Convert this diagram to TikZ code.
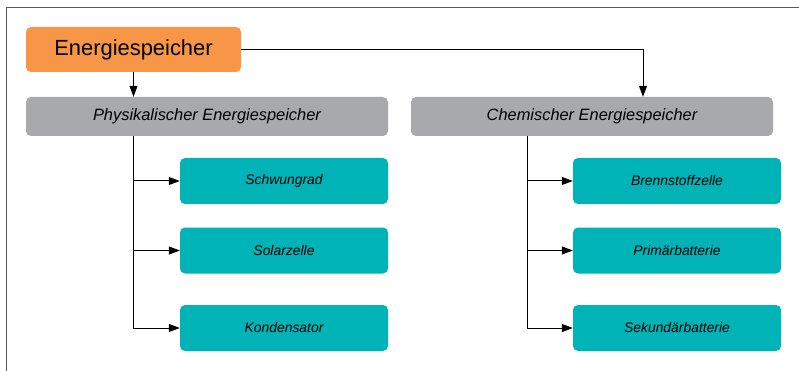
\documentclass[tikz,border=0pt]{standalone}
\usepackage{fontspec}
\setmainfont{Liberation Sans}
\usetikzlibrary{arrows.meta}
\definecolor{orng}{HTML}{F79646}
\definecolor{grayb}{HTML}{A7A9AA}
\definecolor{teal2}{HTML}{00B3B7}
\definecolor{framec}{HTML}{5A5A5A}
\tikzset{
  box/.style={rectangle, rounded corners=5pt, inner sep=0pt, draw=none, text=black},
  topbox/.style={box, fill=orng, minimum width=215pt, minimum height=45pt, font=\fontsize{21.9}{26}\selectfont},
  midbox/.style={box, fill=grayb, minimum width=362pt, minimum height=39pt, font=\fontsize{16.4}{19}\selectfont\itshape},
  leafbox/.style={box, fill=teal2, minimum width=208pt, minimum height=46pt, font=\fontsize{13.9}{16}\selectfont\itshape},
  conn/.style={line width=1pt, black},
  arr/.style={conn, -{Triangle[length=11pt,width=8pt]}},
  frameline/.style={line width=1.3pt, framec}
}
\begin{document}
\begin{tikzpicture}[x=1pt,y=-1pt]
\useasboundingbox (0,0) rectangle (799,371);
\draw[frameline] (6.5,371) -- (6.5,7.5) -- (799,7.5);

\node[topbox] (E) at (133.5,49.5) {Energiespeicher};
\node[midbox] (P) at (207,116.5) {Physikalischer Energiespeicher};
\node[midbox] (C) at (592,116.5) {Chemischer Energiespeicher};

\node[leafbox] (S1) at (284,181) {Schwungrad};
\node[leafbox] (S2) at (284,250.5) {Solarzelle};
\node[leafbox] (S3) at (284,328) {Kondensator};

\node[leafbox] (R1) at (677,181) {Brennstoffzelle};
\node[leafbox] (R2) at (677,250.5) {Primärbatterie};
\node[leafbox] (R3) at (677,328) {Sekundärbatterie};

\coordinate (cj) at (643,0);
\coordinate (lt) at (133,0);
\coordinate (rt) at (527,0);

\draw[arr] (E.south) -- (E.south |- P.north);
\draw[arr] (E.east) -| (cj |- C.north);

\draw[conn] (lt |- P.south) -- (lt |- S3.west);
\draw[arr] (lt |- S1.west) -- (S1.west);
\draw[arr] (lt |- S2.west) -- (S2.west);
\draw[arr] (lt |- S3.west) -- (S3.west);

\draw[conn] (rt |- C.south) -- (rt |- R3.west);
\draw[arr] (rt |- R1.west) -- (R1.west);
\draw[arr] (rt |- R2.west) -- (R2.west);
\draw[arr] (rt |- R3.west) -- (R3.west);
\end{tikzpicture}
\end{document}
